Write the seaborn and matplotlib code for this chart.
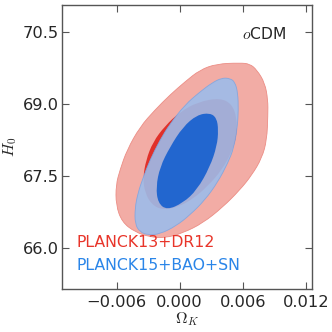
import matplotlib
matplotlib.use('Agg')
import matplotlib.pyplot as plt
from matplotlib.path import Path
from matplotlib.patches import PathPatch
import seaborn as sns

# contour outlines (Omega_K, H0)
red68_ok = [0.00383, 0.00497, 0.00545, 0.00545, 0.00497, 0.00402, 0.00269, 0.00126,
            -0.00016, -0.00159, -0.00263, -0.00330, -0.00349, -0.00320, -0.00254,
            -0.00140, 0.00003, 0.00174]
red68_h0 = [69.122, 68.996, 68.704, 68.349, 67.995, 67.619, 67.285, 67.014,
            66.847, 66.784, 66.888, 67.139, 67.452, 67.828, 68.203,
            68.537, 68.829, 69.038]

red95_ok = [0.00193, 0.00352, 0.00573, 0.00668, 0.00735, 0.00811, 0.00840, 0.00840,
            0.00830, 0.00783, 0.00688, 0.00573, 0.00412, 0.00222, 0.00031, -0.00140,
            -0.00282, -0.00425, -0.00549, -0.00606, -0.00606, -0.00568, -0.00501,
            -0.00378, -0.00235, -0.00092, 0.00050]
red95_h0 = [69.706, 69.831, 69.852, 69.831, 69.706, 69.435, 69.080, 68.767,
            68.245, 67.869, 67.515, 67.202, 66.847, 66.513, 66.304, 66.200,
            66.221, 66.325, 66.534, 66.888, 67.306, 67.619, 68.036,
            68.516, 68.871, 69.184, 69.456]

blue68_ok = [0.00288, 0.00352, 0.00369, 0.00355, 0.00288, 0.00165, 0.00031, -0.00121,
             -0.00206, -0.00225, -0.00187, -0.00092, 0.00031, 0.00165]
blue68_h0 = [68.809, 68.704, 68.454, 68.120, 67.682, 67.202, 66.930, 66.784,
             66.930, 67.264, 67.682, 68.099, 68.516, 68.767]

blue95_ok = [0.00402, 0.00478, 0.00526, 0.00554, 0.00559, 0.00550, 0.00516, 0.00459,
             0.00364, 0.00241, 0.00098, -0.00035, -0.00187, -0.00301, -0.00378,
             -0.00425, -0.00425, -0.00397, -0.00349, -0.00282, -0.00187, -0.00092,
             0.00050, 0.00193, 0.00307]
blue95_h0 = [69.539, 69.529, 69.456, 69.226, 68.871, 68.516, 68.078, 67.765,
             67.369, 66.993, 66.680, 66.450, 66.283, 66.262, 66.325,
             66.492, 66.826, 67.139, 67.452, 67.828, 68.245, 68.579,
             68.976, 69.247, 69.435]

x_ticks = [-0.006, 0.000, 0.006, 0.012]
y_ticks = [66.0, 67.5, 69.0, 70.5]
labels = ['PLANCK13+DR12', 'PLANCK15+BAO+SN']


def smooth_region(ax, xs, ys, **kw):
    # closed quadratic-bezier path, the outline points act as control points
    n = len(xs)
    mids = [((xs[i] + xs[(i + 1) % n]) / 2, (ys[i] + ys[(i + 1) % n]) / 2) for i in range(n)]
    verts = [mids[-1]]
    codes = [Path.MOVETO]
    for i in range(n):
        verts += [(xs[i], ys[i]), mids[i]]
        codes += [Path.CURVE3, Path.CURVE3]
    verts.append(mids[-1])
    codes.append(Path.CLOSEPOLY)
    ax.add_patch(PathPatch(Path(verts, codes), **kw))


sns.set_style('ticks', {'xtick.direction': 'in', 'ytick.direction': 'in',
                        'axes.edgecolor': '#555555'})
plt.rcParams['font.family'] = ['DejaVu Sans']
plt.rcParams['mathtext.fontset'] = 'cm'

fig = plt.figure(figsize=(3.32, 3.32), dpi=100)
ax = fig.add_axes([0.1867, 0.1286, 0.7531, 0.8564])

smooth_region(ax, red95_ok, red95_h0, facecolor='#f2aca5', edgecolor='#ec8d85', lw=0.6, zorder=1)
smooth_region(ax, red68_ok, red68_h0, facecolor='#e0302a', edgecolor='none', zorder=2)
smooth_region(ax, blue95_ok, blue95_h0, facecolor='#9dbcea', alpha=0.9, edgecolor='#7fa5e0', lw=0.6, zorder=3)
smooth_region(ax, blue68_ok, blue68_h0, facecolor='#2266cf', edgecolor='none', zorder=4)

ax.set_xlim(-0.0112, 0.0126)
ax.set_ylim(65.13, 71.06)
ax.set_xticks(x_ticks)
ax.set_xticklabels(['\u22120.006', '0.000', '0.006', '0.012'])
ax.set_yticks(y_ticks)
ax.set_yticklabels([f'{v:.1f}' for v in y_ticks])
ax.tick_params(axis='both', which='major', direction='in', top=True, right=True,
               length=5, width=0.8, color='#555555', labelsize=11.7, pad=2)
ax.tick_params(axis='x', pad=4)
for s in ax.spines.values():
    s.set_linewidth(1.0)

ax.set_xlabel(r'$\Omega_K$', fontsize=11.5, labelpad=0)
ax.set_ylabel(r'$H_0$', fontsize=11.5, labelpad=3)

ax.text(0.896, 0.898, r'$o$CDM', transform=ax.transAxes, ha='right', va='center',
        fontsize=11.2)
ax.text(0.06, 0.166, labels[0], transform=ax.transAxes, ha='left', va='center',
        fontsize=11.3, color='#e8352a')
ax.text(0.06, 0.082, labels[1], transform=ax.transAxes, ha='left', va='center',
        fontsize=11.3, color='#2a85e8')

plt.savefig('out.png', dpi=100)
